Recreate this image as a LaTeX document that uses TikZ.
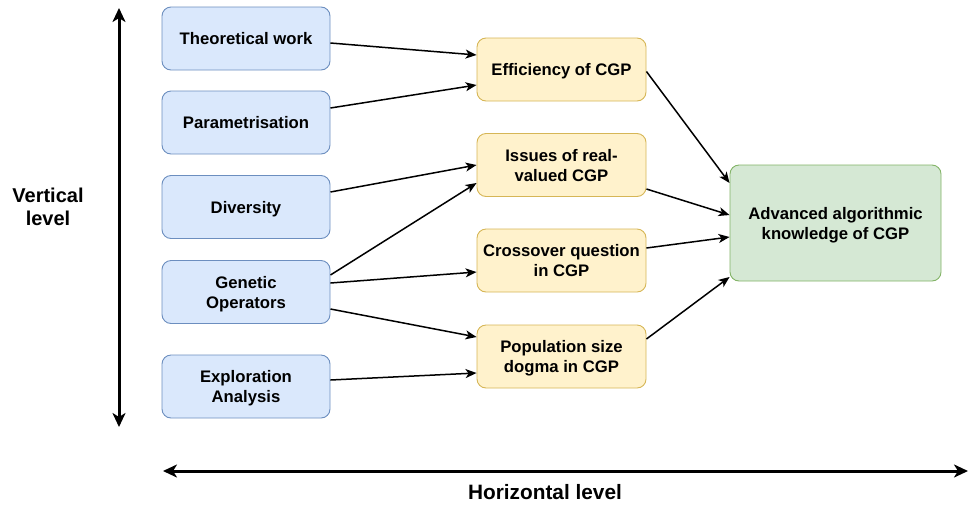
\documentclass[tikz,border=0pt]{standalone}
\usepackage{fontspec}
\setmainfont{Liberation Sans}
\usetikzlibrary{arrows.meta}
\definecolor{bluefill}{HTML}{DAE8FC}
\definecolor{bluedraw}{HTML}{6C8EBF}
\definecolor{yellowfill}{HTML}{FFF2CC}
\definecolor{yellowdraw}{HTML}{D6B656}
\definecolor{greenfill}{HTML}{D5E8D4}
\definecolor{greendraw}{HTML}{82B366}
\begin{document}
\begin{tikzpicture}[x=1pt,y=-1pt,
  box/.style={rounded corners=9pt, line width=0.9pt, minimum width=168pt,
    minimum height=63pt, inner sep=0pt, align=center,
    text height=12pt, text depth=0pt,
    font=\fontsize{16.7}{20}\selectfont\bfseries},
  twoline/.style={text height=32pt},
  srcbox/.style={box, fill=bluefill, draw=bluedraw},
  midbox/.style={box, fill=yellowfill, draw=yellowdraw, minimum width=169pt},
  goalbox/.style={box, fill=greenfill, draw=greendraw, minimum width=211pt,
    minimum height=116pt},
  link/.style={line width=1.5pt, -{Stealth[length=11pt,width=9pt,inset=3pt]}},
  axis/.style={line width=3pt, {Stealth[length=14pt,width=13pt,inset=4pt]}-{Stealth[length=14pt,width=13pt,inset=4pt]}},
  axislabel/.style={align=center, inner sep=0pt, text height=14.5pt, text depth=0pt,
    font=\fontsize{20}{23.5}\selectfont\bfseries}]
\useasboundingbox (0,0) rectangle (968,504);

% source topics
\node[srcbox] (tw) at (246,38.5) {Theoretical work};
\node[srcbox] (pa) at (246,122.5) {Parametrisation};
\node[srcbox] (dv) at (246,207) {Diversity};
\node[srcbox, twoline] (go) at (246,292) {Genetic\\Operators};
\node[srcbox, twoline] (ex) at (246,386.5) {Exploration\\Analysis};

% intermediate questions
\node[midbox] (ef) at (561.5,69.5) {Efficiency of CGP};
\node[midbox, twoline] (is) at (561.5,165) {Issues of real-\\valued CGP};
\node[midbox, twoline] (cq) at (561.5,260.5) {Crossover question\\in CGP};
\node[midbox, twoline] (pd) at (561.5,356.5) {Population size\\dogma in CGP};

% outcome
\node[goalbox, twoline] (ak) at (835.5,223) {Advanced algorithmic\\knowledge of CGP};

% links between topics
\draw[link] ([yshift=-4.5pt]tw.east) -- ([yshift=14.5pt]ef.west);
\draw[link] ([yshift=14.5pt]pa.east) -- ([yshift=-15.5pt]ef.west);
\draw[link] ([yshift=15pt]dv.east) -- ([yshift=0pt]is.west);
\draw[link] ([yshift=17pt]go.east) -- ([yshift=-18pt]is.west);
\draw[link] ([yshift=9pt]go.east) -- ([yshift=-11.5pt]cq.west);
\draw[link] ([yshift=-17pt]go.east) -- ([yshift=19.5pt]pd.west);
\draw[link] ([yshift=6.5pt]ex.east) -- ([yshift=-16.5pt]pd.west);

\draw[link] ([yshift=-2pt]ef.east) -- ([yshift=40pt]ak.west);
\draw[link] ([yshift=-24pt]is.east) -- ([yshift=8pt]ak.west);
\draw[link] ([yshift=12.5pt]cq.east) -- ([yshift=-14pt]ak.west);
\draw[link] ([yshift=17.5pt]pd.east) -- ([yshift=-54pt]ak.west);

% axes
\coordinate (vtop) at (119,8);
\coordinate (vbot) at (119,427);
\coordinate (hleft) at (163,471);
\coordinate (hright) at (968,471);
\draw[axis] (vtop) -- (vbot);
\draw[axis] (hleft) -- (hright);
\node[axislabel, text height=38pt] (vl) at (48,206.5) {Vertical\\level};
\node[axislabel, font=\fontsize{20.8}{24}\selectfont\bfseries, text height=15pt] (hl) at (545,491.5) {Horizontal level};
\end{tikzpicture}
\end{document}
